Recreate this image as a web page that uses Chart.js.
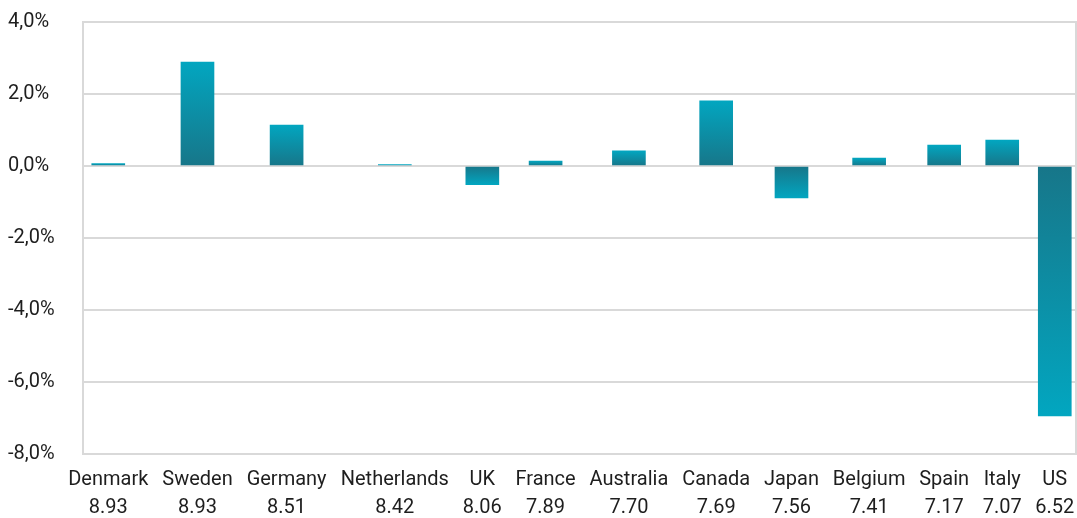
<!DOCTYPE html>
<html>
<head>
<meta charset="utf-8">
<script src="https://cdn.jsdelivr.net/npm/chart.js@4/dist/chart.umd.min.js"></script>
<style>
  html, body { margin: 0; padding: 0; background: #fff; }
  #wrap { width: 1077px; height: 518px; }
</style>
</head>
<body>
<div id="wrap"><canvas id="scoreChart"></canvas></div>
<script>
const countries = ["Denmark", "Sweden", "Germany", "Netherlands", "UK", "France", "Australia", "Canada", "Japan", "Belgium", "Spain", "Italy", "US"];
const scores = ["8.93", "8.93", "8.51", "8.42", "8.06", "7.89", "7.70", "7.69", "7.56", "7.41", "7.17", "7.07", "6.52"];
const changes = [0.07, 2.89, 1.14, 0.04, -0.52, 0.14, 0.42, 1.81, -0.89, 0.22, 0.58, 0.72, -6.94];
const yTicks = [-8, -6, -4, -2, 0, 2, 4];

const FONT = { family: "Roboto", size: 20 };
const TEXT = "#1e1e1e";
const GRID = "#d9d9d9";
const LIGHT = "#02a6c0";
const DARK = "#177689";
const GAP = 13;

// the categories sit side by side like their labels, so space them by label width
const measure = document.createElement("canvas").getContext("2d");
measure.font = FONT.size + "px " + FONT.family;
const widths = countries.map((c, i) =>
  Math.max(measure.measureText(c).width, measure.measureText(scores[i]).width)
);
const centers = [];
widths.forEach((w, i) => {
  centers.push(i === 0 ? w / 2 : centers[i - 1] + widths[i - 1] / 2 + GAP + w / 2);
});

const barFill = (context) => {
  const chart = context.chart;
  if (!chart.chartArea || context.type !== "data") return LIGHT;
  const yScale = chart.scales.y;
  const y0 = yScale.getPixelForValue(0);
  const y1 = yScale.getPixelForValue(context.raw.y);
  if (Math.abs(y1 - y0) < 1) return LIGHT;
  const g = chart.ctx.createLinearGradient(0, y0, 0, y1);
  g.addColorStop(0, DARK);
  g.addColorStop(1, LIGHT);
  return g;
};

const frame = {
  id: "frame",
  beforeDatasetsDraw(chart) {
    const { ctx, chartArea } = chart;
    ctx.save();
    ctx.strokeStyle = GRID;
    ctx.lineWidth = 2;
    ctx.strokeRect(chartArea.left, chartArea.top, chartArea.right - chartArea.left, chartArea.bottom - chartArea.top);
    ctx.restore();
  },
};

new Chart(document.getElementById("scoreChart"), {
  type: "bar",
  data: {
    datasets: [
      {
        data: changes.map((v, i) => ({ x: centers[i], y: v })),
        backgroundColor: barFill,
        barThickness: 33,
      },
    ],
  },
  options: {
    responsive: true,
    maintainAspectRatio: false,
    animation: false,
    layout: { padding: { left: 8, right: 1, top: 22, bottom: 0 } },
    plugins: { legend: { display: false }, tooltip: { enabled: false } },
    scales: {
      x: {
        type: "linear",
        offset: false,
        min: centers[0] - 25,
        max: centers[centers.length - 1] + 21,
        afterBuildTicks: (axis) => {
          axis.ticks = centers.map((v) => ({ value: v }));
        },
        afterFit: (axis) => {
          axis.height = 64;
          axis.paddingLeft = 0;
          axis.paddingRight = 0;
        },
        grid: { display: false, drawTicks: false },
        border: { display: false },
        ticks: {
          autoSkip: false,
          maxRotation: 0,
          minRotation: 0,
          padding: 12,
          color: TEXT,
          font: { ...FONT, lineHeight: 1.4 },
          callback: (v, i) => [countries[i], scores[i]],
        },
      },
      y: {
        min: -8,
        max: 4,
        afterBuildTicks: (axis) => {
          axis.ticks = yTicks.map((v) => ({ value: v }));
        },
        afterFit: (axis) => {
          axis.width = 75;
          axis.paddingTop = 0;
          axis.paddingBottom = 0;
        },
        grid: { color: GRID, lineWidth: 2, drawTicks: false },
        border: { color: GRID, width: 2 },
        ticks: {
          crossAlign: "far",
          padding: 30,
          color: TEXT,
          font: FONT,
          callback: (v) => v.toFixed(1).replace(".", ",") + "%",
        },
      },
    },
  },
  plugins: [frame],
});
</script>
</body>
</html>
